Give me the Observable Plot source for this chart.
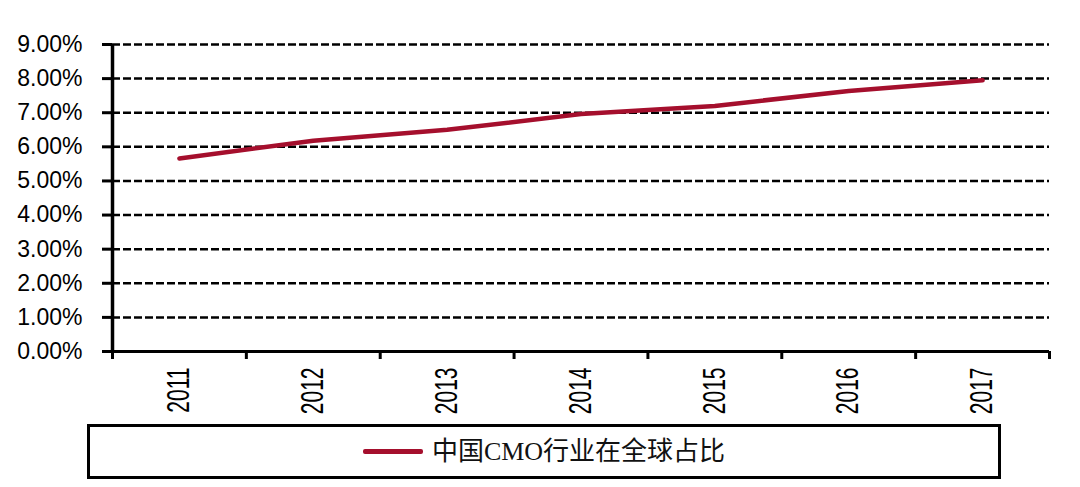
<!DOCTYPE html>
<html>
<head>
<meta charset="utf-8">
<script src="https://cdn.jsdelivr.net/npm/d3@7"></script>
<script src="https://cdn.jsdelivr.net/npm/@observablehq/plot@0.6"></script>
<style>
  html, body { margin: 0; padding: 0; background: #fff; }
  #wrap { position: relative; width: 1080px; height: 487px; overflow: hidden; }
  #legend {
    position: absolute; left: 87px; top: 424px; width: 914px; height: 55px;
    border: 3px solid #000; box-sizing: border-box;
    display: flex; align-items: center; justify-content: center;
  }
  #legend .sw { width: 60px; height: 5px; margin-right: 9px; border-radius: 2px; }
  #legend .lb { font-family: "Liberation Serif", "Noto Sans CJK SC", serif; font-size: 26px; color: #111; line-height: 1; }
</style>
</head>
<body>
<div id="wrap">
  <div id="chart"></div>
  <div id="legend"><span class="sw"></span><span class="lb"></span></div>
</div>
<script>
const years = [2011, 2012, 2013, 2014, 2015, 2016, 2017];
const shares = [0.0566, 0.0618, 0.0650, 0.0696, 0.0720, 0.0764, 0.0795];
const yTicks = [0, 0.01, 0.02, 0.03, 0.04, 0.05, 0.06, 0.07, 0.08, 0.09];
const seriesName = "中国CMO行业在全球占比";
const lineColor = "#A50F2D";

const data = years.map((year, i) => ({year, share: shares[i]}));
const boundaries = [years[0] - 0.5, ...years.map(y => y + 0.5)];

const chart = Plot.plot({
  width: 1080,
  height: 420,
  marginLeft: 112,
  marginRight: 31,
  marginTop: 44,
  marginBottom: 69,
  x: {type: "linear", domain: [boundaries[0], boundaries[boundaries.length - 1]], axis: null},
  y: {domain: [0, 0.09], axis: null},
  style: {fontFamily: "'Liberation Sans', Arial, sans-serif", color: "#000", background: "#fff"},
  marks: [
    Plot.gridY(yTicks, {stroke: "#000", strokeOpacity: 1, strokeWidth: 2.5, strokeDasharray: "8,3"}),
    Plot.line(data, {x: "year", y: "share", stroke: lineColor, strokeWidth: 4.5, strokeLinecap: "round"}),
    Plot.axisY(yTicks, {tickFormat: d3.format(".2%"), tickSize: 10, tickPadding: 20, fontSize: 23, strokeWidth: 3, label: null}),
    Plot.axisX(boundaries, {tickSize: 8, tickFormat: () => "", strokeWidth: 3, label: null}),
    Plot.axisX(years, {tickSize: 0, tickPadding: 16, tickRotate: -90, tickFormat: d => String(d), fontSize: 21, label: null}),
    Plot.ruleX([boundaries[0]], {stroke: "#000", strokeWidth: 3.5}),
    Plot.ruleY([0], {stroke: "#000", strokeWidth: 3})
  ]
});
document.getElementById("chart").appendChild(chart);

// stretch the rotated year labels to mimic the reference's tall glyphs
chart.querySelectorAll("text").forEach(t => {
  const tr = t.getAttribute("transform");
  if (tr && tr.includes("rotate(-90)")) t.setAttribute("transform", tr + " scale(1,1.45)");
});

document.querySelector("#legend .sw").style.background = lineColor;
document.querySelector("#legend .lb").textContent = seriesName;
</script>
</body>
</html>
